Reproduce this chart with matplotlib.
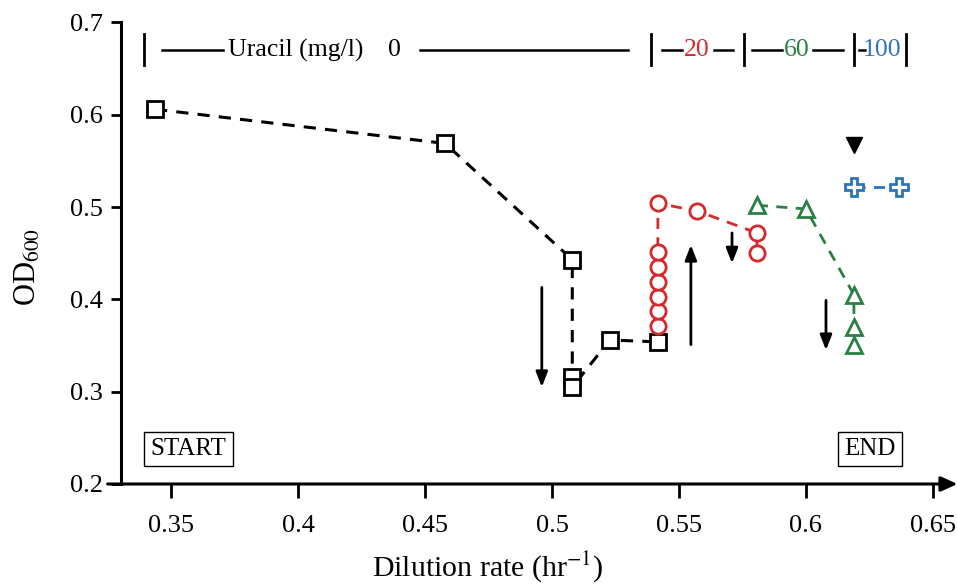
import matplotlib
matplotlib.use("Agg")
import matplotlib.pyplot as plt

plt.rcParams['font.family'] = ['Liberation Serif', 'DejaVu Serif']
plt.rcParams['mathtext.fontset'] = 'stix'

# ---- data ----
black_x = [0.3437, 0.4579, 0.508, 0.508, 0.508, 0.5228, 0.5417]
black_y = [0.606, 0.569, 0.443, 0.316, 0.305, 0.356, 0.354]

red_x = [0.5417, 0.5417, 0.5417, 0.5417, 0.5417, 0.5417, 0.5417, 0.557, 0.5807, 0.5807]
red_y = [0.371, 0.387, 0.403, 0.419, 0.435, 0.451, 0.504, 0.496, 0.472, 0.450]

green_x = [0.5807, 0.600, 0.6189, 0.6189, 0.6189]
green_y = [0.502, 0.498, 0.405, 0.370, 0.351]

blue_x = [0.6189, 0.6366]
blue_y = [0.522, 0.522]

marker_x = [0.619]
marker_y = [0.567]

# arrows: (x, y_start, y_end)
arrows = [(0.496, 0.413, 0.305), (0.5547, 0.351, 0.459),
          (0.5709, 0.472, 0.439), (0.6079, 0.399, 0.345)]

xticks = [0.35, 0.4, 0.45, 0.5, 0.55, 0.6, 0.65]
xticklabels = ['0.35', '0.4', '0.45', '0.5', '0.55', '0.6', '0.65']
yticks = [0.2, 0.3, 0.4, 0.5, 0.6, 0.7]
yticklabels = ['0.2', '0.3', '0.4', '0.5', '0.6', '0.7']

RED = '#d8282c'
GREEN = '#2a7f45'
BLUE = '#2f74b8'

fig = plt.figure(figsize=(9.57, 5.88), dpi=100)
ax = fig.add_axes([121/957, 1-484/588, (955-121)/957, (484-22.5)/588])
ax.set_xlim(0.3303, 0.6587)
ax.set_ylim(0.2, 0.7)

for s in ['top', 'right', 'bottom']:
    ax.spines[s].set_visible(False)
ax.spines['left'].set_linewidth(2.2)

ax.set_xticks(xticks)
ax.set_xticklabels(xticklabels)
ax.set_yticks(yticks)
ax.set_yticklabels(yticklabels)
ax.tick_params(axis='x', direction='out', length=10, width=2, labelsize=19, pad=12)
ax.tick_params(axis='y', direction='out', length=7, width=2, labelsize=19, pad=6)

# bottom axis with arrow
ax.annotate('', xy=(1.003, 0), xytext=(-0.016, 0), xycoords='axes fraction',
            arrowprops=dict(arrowstyle='-|>,head_length=1.0,head_width=0.45',
                            lw=2.2, color='black', shrinkA=0, shrinkB=0),
            annotation_clip=False)

ms_lw = 2.0
ax.plot(black_x, black_y, ls=(0, (4, 3)), color='black', lw=2.2, marker='s', ms=12,
        mfc='white', mec='black', mew=ms_lw, zorder=3)
ax.plot(red_x, red_y, ls=(0, (4, 3)), color=RED, lw=2.0, marker='o', ms=11,
        mfc='white', mec=RED, mew=ms_lw, zorder=4)
ax.plot(green_x, green_y, ls=(0, (4, 3)), color=GREEN, lw=2.0, marker='^', ms=12,
        mfc='white', mec=GREEN, mew=ms_lw, zorder=3)
ax.plot(blue_x, blue_y, ls=(0, (4, 3)), color=BLUE, lw=2.0, marker='P', ms=13,
        mfc='white', mec=BLUE, mew=ms_lw, zorder=3)
ax.plot(marker_x, marker_y, ls='none', marker='v', ms=12, color='black', zorder=3)

for x, y0, y1 in arrows:
    ax.annotate('', xy=(x, y1), xytext=(x, y0),
                arrowprops=dict(arrowstyle='-|>,head_length=0.9,head_width=0.35',
                                lw=2, color='black', shrinkA=0, shrinkB=0))

# top Uracil annotation
ty = 0.670
bar_kw = dict(color='black', lw=2)
def vbar(x):
    ax.plot([x, x], [0.654, 0.687], clip_on=False, **bar_kw)
def hline(x0, x1, c='black', lw=1.8):
    ax.plot([x0, x1], [ty, ty], color=c, lw=lw, clip_on=False)

fs_top = 18.5
vbar(0.3394)
hline(0.3465, 0.3705)
ax.text(0.3725, ty, 'Uracil (mg/l)', fontsize=fs_top, va='center', ha='left')
ax.text(0.4378, ty, '0', fontsize=fs_top, va='center', ha='center')
hline(0.448, 0.530)
vbar(0.539)
hline(0.5433, 0.5512)
ax.text(0.5571, ty, '20', fontsize=fs_top, va='center', ha='center', color=RED)
hline(0.5638, 0.5713)
vbar(0.5756)
hline(0.5787, 0.5906)
ax.text(0.5965, ty, '60', fontsize=fs_top, va='center', ha='center', color=GREEN)
hline(0.6028, 0.6146)
vbar(0.6189)
hline(0.6209, 0.6232)
ax.text(0.6299, ty, '100', fontsize=fs_top, va='center', ha='center', color=BLUE)
vbar(0.6394)

box = dict(boxstyle='square,pad=0.25', fc='white', ec='black', lw=1)
ax.text(0.3420, 0.238, 'START', fontsize=18, va='center', ha='left', bbox=box)
ax.text(0.6150, 0.238, 'END', fontsize=18, va='center', ha='left', bbox=box)

ax.set_xlabel('Dilution rate (hr$^{-1}$)', fontsize=21.5)
ax.xaxis.set_label_coords(0.44, -0.14)
ax.set_ylabel('OD$_{600}$', fontsize=22)
ax.yaxis.set_label_coords(-0.094, 0.47)

fig.savefig('out.png', dpi=100)
